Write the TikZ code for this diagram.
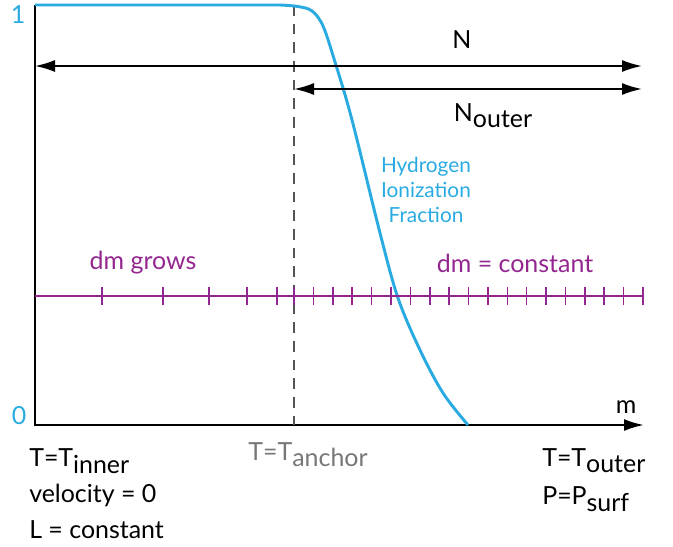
\documentclass[tikz,border=0pt]{standalone}
\usepackage{fontspec}
\setmainfont{Lato}
\usetikzlibrary{arrows.meta}
\definecolor{hblue}{HTML}{29ABE2}
\definecolor{dmpurple}{HTML}{93278F}
\definecolor{anchorgray}{HTML}{777777}
\definecolor{dashgray}{HTML}{555555}
\newcommand{\lsub}[1]{\raisebox{-0.5ex}{#1}}

\begin{document}
\begin{tikzpicture}[x=0.75pt,y=-0.75pt,
  >={Latex[length=15pt,width=9pt]},
  ax/.style={line width=1.7pt,black},
  arr/.style={<->,line width=1.4pt,black},
  dl/.style={line width=1.2pt,dashgray,dash pattern=on 8pt off 6pt},
  dm/.style={line width=1.2pt,dmpurple},
  hc/.style={line width=2.2pt,hblue},
  t/.style={font=\fontsize{18.7}{22}\selectfont,inner sep=0pt},
  tp/.style={t,text=dmpurple},
  tb/.style={t,text=hblue}]
\useasboundingbox (0,0) rectangle (673,546);
% axes
\coordinate (top) at (35,5);
\coordinate (org) at (35,425);
\coordinate (mend) at (644,425);
\draw[ax,->] (top) -- (org) -- (mend);
\node[tb] (one) at (18,15) {1};
\node[tb] (zero) at (19,416) {0};
\node[t] (mlbl) at (626,407) {m};
% anchor line
\coordinate (atop) at (294,5);
\coordinate (abot) at (294,425);
\draw[dl] (atop) -- (abot);
% ionization fraction
\draw[hc] (top) -- (280,5) plot[smooth,tension=0.55] coordinates {(280,5)(298,6.5)(312,11)(323,26)(335,62)(352,120)(380,233)(398,298)(420,350)(443,393)(468,425)};
\node[tb,font=\fontsize{15.6}{19}\selectfont,align=center] (hif) at (426,190) {Hydrogen\\Ionization\\Fraction};
% N arrows
\coordinate (nl) at (35,66);
\coordinate (nr) at (642,66);
\draw[arr] (nl) -- (nr);
\node[t] (nlbl) at (462,40) {N};
\coordinate (ol) at (294,89);
\coordinate (or) at (642,89);
\draw[arr] (ol) -- (or);
\node[t] (olbl) at (493,116) {N\lsub{outer}};
% mass grid
\coordinate (gl) at (35,296);
\coordinate (gr) at (643,296);
\draw[dm] (gl) -- (gr);
\foreach \x in {102,163,209,247,277}
  \draw[dm] (\x,287) -- (\x,305);
\foreach \i in {0,...,18}
  \draw[dm] ({294+19.39*\i},287) -- ({294+19.39*\i},305);
\node[tp] (grows) at (143,263) {dm grows};
\node[tp] (const) at (515,263) {dm = constant};
% boundary conditions
\node[t,anchor=west] (tin) at (29,461) {T=T\lsub{inner}};
\node[t,anchor=west] (vel) at (29,495) {velocity = 0};
\node[t,anchor=west] (lum) at (29,530) {L = constant};
\node[t,text=anchorgray] (tan) at (308,455) {T=T\lsub{anchor}};
\node[t,anchor=west] (tout) at (542,461) {T=T\lsub{outer}};
\node[t,anchor=west] (psurf) at (542,499) {P=P\lsub{surf}};
\end{tikzpicture}
\end{document}
